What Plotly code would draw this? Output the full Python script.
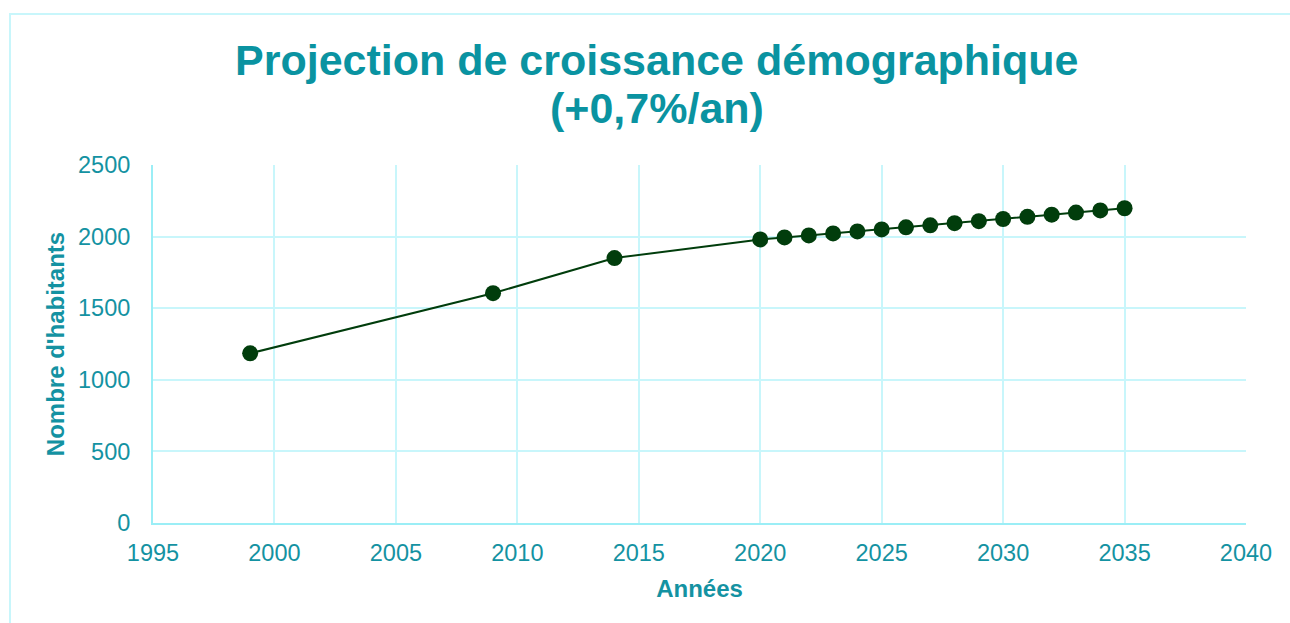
import plotly.graph_objects as go

years = [1999, 2009, 2014, 2020, 2021, 2022, 2023, 2024, 2025, 2026, 2027, 2028,
         2029, 2030, 2031, 2032, 2033, 2034, 2035]
population = [1185, 1605, 1850, 1980, 1994, 2008, 2022, 2036, 2050, 2065, 2079, 2094,
              2108, 2123, 2138, 2153, 2168, 2183, 2198]
x_ticks = [1995, 2000, 2005, 2010, 2015, 2020, 2025, 2030, 2035, 2040]
y_ticks = [0, 500, 1000, 1500, 2000, 2500]
title_lines = ["Projection de croissance démographique", "(+0,7%/an)"]

TEAL = "#1492a2"
TITLE = "#0a93a1"
GRID = "#c8f6fb"
AXIS = "#9beef6"
GREEN = "#013d0c"
FONT = "Liberation Sans, Arial, sans-serif"

W, H = 1290, 623
L, R, T, B = 153, 44, 165, 100
pw, ph = W - L - R, H - T - B

fig = go.Figure()
fig.add_trace(go.Scatter(
    x=years, y=population, mode="lines+markers",
    line=dict(color=GREEN, width=2),
    marker=dict(color=GREEN, size=16, line=dict(width=0)),
    showlegend=False,
))

def px_x(p):
    return (p - L) / pw

def px_y(p):
    return (H - B - p) / ph

annotations = []
for line, yc in zip(title_lines, [60, 108]):
    annotations.append(dict(
        text="<b>" + line + "</b>", xref="paper", yref="paper",
        x=px_x(656.5), y=px_y(yc), xanchor="center", yanchor="middle",
        showarrow=False, font=dict(size=43, color=TITLE, family=FONT),
    ))

fig.update_layout(
    width=W, height=H,
    margin=dict(l=L, r=R, t=T, b=B),
    paper_bgcolor="white", plot_bgcolor="white",
    font=dict(family=FONT, color=TEAL),
    annotations=annotations,
    xaxis=dict(
        range=[1995, 2040], tickvals=x_ticks, ticktext=[str(v) for v in x_ticks],
        showgrid=True, gridcolor=GRID, gridwidth=2,
        showline=True, linecolor=AXIS, linewidth=2, mirror=False,
        zeroline=False, ticks="", ticklabelstandoff=8,
        tickfont=dict(size=23.5, color=TEAL, family=FONT),
        title=dict(text="<b>Années</b>", font=dict(size=24, color=TEAL, family=FONT), standoff=15),
    ),
    yaxis=dict(
        range=[0, 2500], tickvals=y_ticks, ticktext=[str(v) for v in y_ticks],
        showgrid=True, gridcolor=GRID, gridwidth=2,
        showline=True, linecolor=AXIS, linewidth=2,
        zeroline=False, ticks="", ticklabelstandoff=16,
        tickfont=dict(size=23.5, color=TEAL, family=FONT),
        title=dict(text="<b>Nombre d'habitants</b>", font=dict(size=24, color=TEAL, family=FONT), standoff=7),
    ),
    shapes=[dict(
        type="rect", xref="paper", yref="paper",
        x0=px_x(10), x1=px_x(1300), y0=px_y(640), y1=px_y(14),
        line=dict(color=GRID, width=2), fillcolor="rgba(0,0,0,0)", layer="below",
    )],
)

fig.write_html("out.html", config={"displayModeBar": False},
               post_script="document.body.style.margin='0';")
